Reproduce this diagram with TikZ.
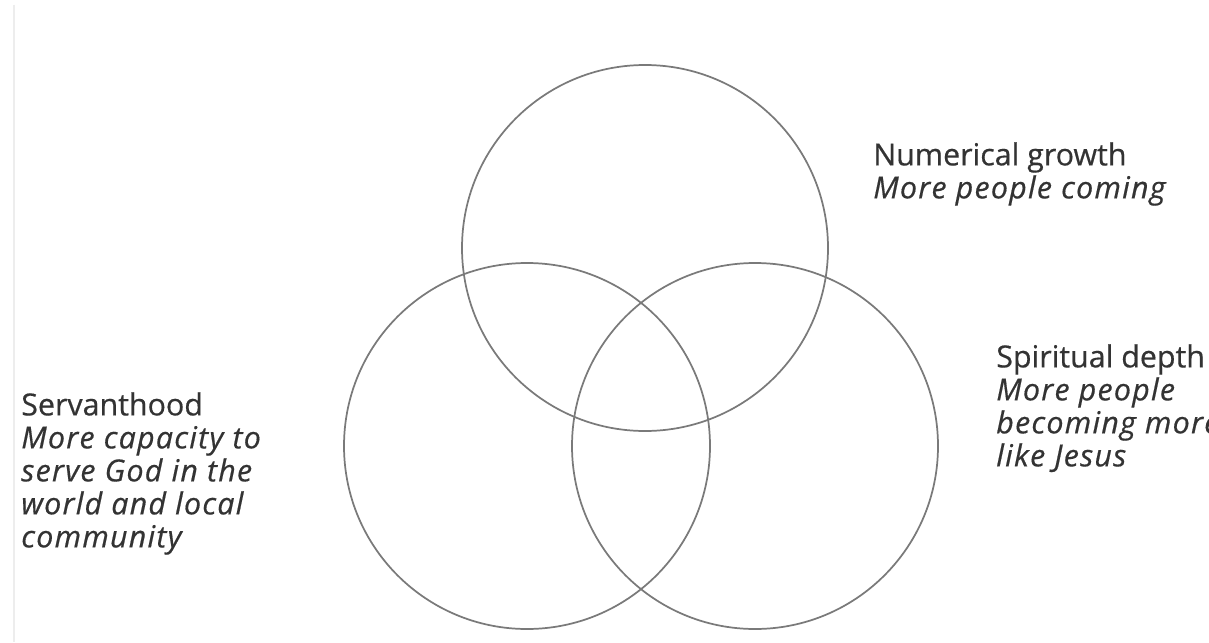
\documentclass[tikz,border=0pt]{standalone}
\usepackage{fontspec}
\setmainfont{Open Sans}[FakeBold=0.5, ItalicFeatures={LetterSpace=4}]
\definecolor{txt}{HTML}{333333}
\definecolor{ring}{HTML}{7A7A7A}
\tikzset{
  venn/.style={draw=ring, line width=1.3pt},
  lbl/.style={anchor=north west, align=left, inner sep=0pt, text=txt,
    font=\fontsize{22.8pt}{24.75pt}\selectfont},
}
\begin{document}
\begin{tikzpicture}[x=0.75pt,y=-0.75pt]
\useasboundingbox (0,0) rectangle (1209,642);
\clip (0,0) rectangle (1209,642);
\fill[white] (0,0) rectangle (1209,642);
\draw[black!7, line width=0.8pt] (14,5) -- (14,642);
\draw[venn] (645,248) circle [radius=137.25pt];
\draw[venn] (527,446) circle [radius=137.25pt];
\draw[venn] (755,446) circle [radius=137.25pt];
\node[lbl] (num) at (873,142) {Numerical growth\\\textit{More people coming}};
\node[lbl] (spi) at (996,344) {Spiritual depth\\\textit{More people}\\\textit{becoming more}\\\textit{like Jesus}};
\node[lbl] (ser) at (21,392) {Servanthood\\\textit{More capacity to}\\\textit{serve God in the}\\\textit{world and local}\\\textit{community}};
\end{tikzpicture}
\end{document}
